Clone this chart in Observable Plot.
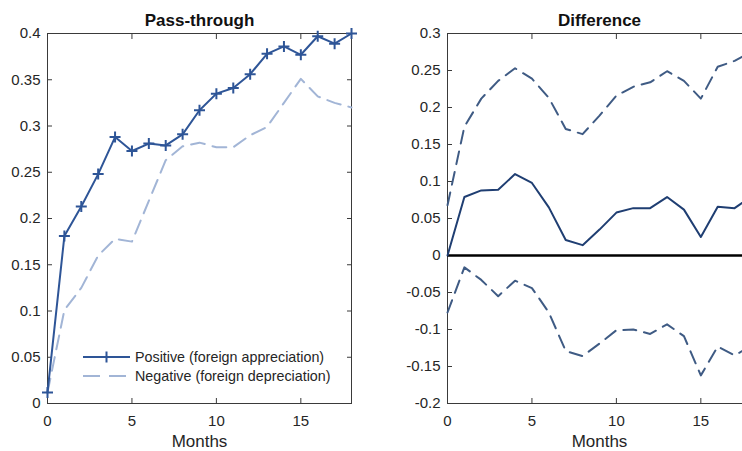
<!DOCTYPE html>
<html><head><meta charset="utf-8">
<script src="https://cdn.jsdelivr.net/npm/d3@7"></script>
<script src="https://cdn.jsdelivr.net/npm/@observablehq/plot@0.6"></script>
<style>
html,body{margin:0;padding:0;background:#fff;overflow:hidden;width:742px;height:451px;}
#wrap{position:relative;width:742px;height:451px;overflow:hidden;font-family:"Liberation Sans",Arial,sans-serif;color:#262626;}
#left{position:absolute;left:0;top:0;width:371px;height:451px}
#right{position:absolute;left:371px;top:0;width:400px;height:451px}
#wrap svg{max-width:none !important;}
#legend{position:absolute;left:0;top:0;pointer-events:none}
</style></head><body><div id="wrap"><div id="left"></div><div id="right"></div><svg id="legend" width="371" height="451"></svg></div>
<script>
// ---- data ----
const months = [0,1,2,3,4,5,6,7,8,9,10,11,12,13,14,15,16,17,18];
const positive = [0.012,0.181,0.213,0.248,0.288,0.273,0.281,0.279,0.291,0.317,0.335,0.341,0.356,0.378,0.386,0.377,0.397,0.389,0.400];
const negative = [0.012,0.101,0.125,0.160,0.178,0.175,0.219,0.263,0.278,0.282,0.277,0.277,0.290,0.299,0.325,0.351,0.332,0.325,0.320];
const difference = [0,0.079,0.088,0.089,0.110,0.098,0.065,0.021,0.014,0.035,0.058,0.064,0.064,0.079,0.062,0.025,0.066,0.064,0.080];
const upperBand = [0.068,0.174,0.212,0.236,0.253,0.239,0.213,0.171,0.164,0.189,0.216,0.228,0.234,0.249,0.236,0.212,0.255,0.263,0.275];
const lowerBand = [-0.077,-0.016,-0.033,-0.055,-0.034,-0.044,-0.077,-0.129,-0.136,-0.119,-0.101,-0.100,-0.106,-0.093,-0.109,-0.162,-0.123,-0.135,-0.122];
const xTicks = [0,5,10,15];
const yTicksLeft = [0,0.05,0.1,0.15,0.2,0.25,0.3,0.35,0.4];
const yTicksRight = [-0.2,-0.15,-0.1,-0.05,0,0.05,0.1,0.15,0.2,0.25,0.3];
const legendLabels = ["Positive (foreign appreciation)","Negative (foreign depreciation)"];

// ---- styles ----
const posColor = "#2e5597", negColor = "#a2b5d6", diffColor = "#1f3e72", bandColor = "#3f5b84", axisColor = "#3a3a3a";
const font = '"Liberation Sans", Arial, sans-serif';
const fmt = d => `${+d.toFixed(2)}`;
const blank = () => "";
const plusSymbol = {draw(ctx, size){const r = Math.sqrt(size/Math.PI); ctx.moveTo(-r,0); ctx.lineTo(r,0); ctx.moveTo(0,-r); ctx.lineTo(0,r);}};
const rows = arr => months.map((m,i) => ({month:m, value:arr[i]}));

function axes(yTicks){
  return [
    Plot.frame({stroke: axisColor, strokeWidth: 1}),
    Plot.axisY(yTicks, {anchor:"left", tickSize:-5, tickPadding:12, tickFormat:fmt, fontSize:15, stroke:axisColor, fill:"#262626"}),
    Plot.axisY(yTicks, {anchor:"right", tickSize:-5, tickFormat:blank, stroke:axisColor}),
    Plot.axisX(xTicks, {anchor:"bottom", tickSize:-5, tickPadding:17, tickFormat:fmt, fontSize:15, stroke:axisColor, fill:"#262626"}),
    Plot.axisX(xTicks, {anchor:"top", tickSize:-5, tickFormat:blank, stroke:axisColor})
  ];
}

const left = Plot.plot({
  width: 371, height: 451,
  marginLeft: 47, marginRight: 20, marginTop: 33, marginBottom: 48,
  style: {fontFamily: font, fontSize: "15px", color: "#262626", background: "transparent", maxWidth: "none"},
  x: {domain: [0,18], label: null},
  y: {domain: [0,0.4], label: null},
  marks: [
    ...axes(yTicksLeft),
    Plot.line(rows(negative), {x:"month", y:"value", stroke:negColor, strokeWidth:2, strokeDasharray:"14,8"}),
    Plot.line(rows(positive), {x:"month", y:"value", stroke:posColor, strokeWidth:2}),
    Plot.dot(rows(positive), {x:"month", y:"value", symbol:plusSymbol, r:5.5, stroke:posColor, strokeWidth:2, fill:"none"}),
    Plot.text(["Pass-through"], {frameAnchor:"top", lineAnchor:"middle", dy:-13, fontWeight:"bold", fontSize:17, fill:"#111"}),
    Plot.text(["Months"], {frameAnchor:"bottom", lineAnchor:"middle", dy:38, fontSize:17, fill:"#262626"})
  ]
});
document.getElementById("left").append(left);

const right = Plot.plot({
  width: 400, height: 451,
  marginLeft: 76, marginRight: 20, marginTop: 33, marginBottom: 48,
  style: {fontFamily: font, fontSize: "15px", color: "#262626", background: "transparent", maxWidth: "none"},
  x: {domain: [0,18], label: null},
  y: {domain: [-0.2,0.3], label: null},
  marks: [
    ...axes(yTicksRight),
    Plot.ruleY([0], {stroke:"#000", strokeWidth:2.5}),
    Plot.line(rows(upperBand), {x:"month", y:"value", stroke:bandColor, strokeWidth:2, strokeDasharray:"13,8"}),
    Plot.line(rows(lowerBand), {x:"month", y:"value", stroke:bandColor, strokeWidth:2, strokeDasharray:"13,8"}),
    Plot.line(rows(difference), {x:"month", y:"value", stroke:diffColor, strokeWidth:2}),
    Plot.text(["Difference"], {frameAnchor:"top", lineAnchor:"middle", dy:-13, fontWeight:"bold", fontSize:17, fill:"#111"}),
    Plot.text(["Months"], {frameAnchor:"bottom", lineAnchor:"middle", dy:38, fontSize:17, fill:"#262626"})
  ]
});
document.getElementById("right").append(right);

// ---- legend ----
const lg = d3.select("#legend");
const ly = [357, 376];
lg.append("line").attr("x1",83).attr("x2",130).attr("y1",ly[0]).attr("y2",ly[0]).attr("stroke",posColor).attr("stroke-width",2);
lg.append("path").attr("d",`M101,${ly[0]}h11M106.5,${ly[0]-5.5}v11`).attr("stroke",posColor).attr("stroke-width",2).attr("fill","none");
lg.append("line").attr("x1",83).attr("x2",130).attr("y1",ly[1]).attr("y2",ly[1]).attr("stroke",negColor).attr("stroke-width",2).attr("stroke-dasharray","17,9");
lg.selectAll("text").data(legendLabels).join("text")
  .attr("x",135).attr("y",(d,i)=>ly[i]).attr("dy","0.35em")
  .attr("font-family",font).attr("font-size",14.3).attr("fill","#262626").text(d=>d);
</script></body></html>
